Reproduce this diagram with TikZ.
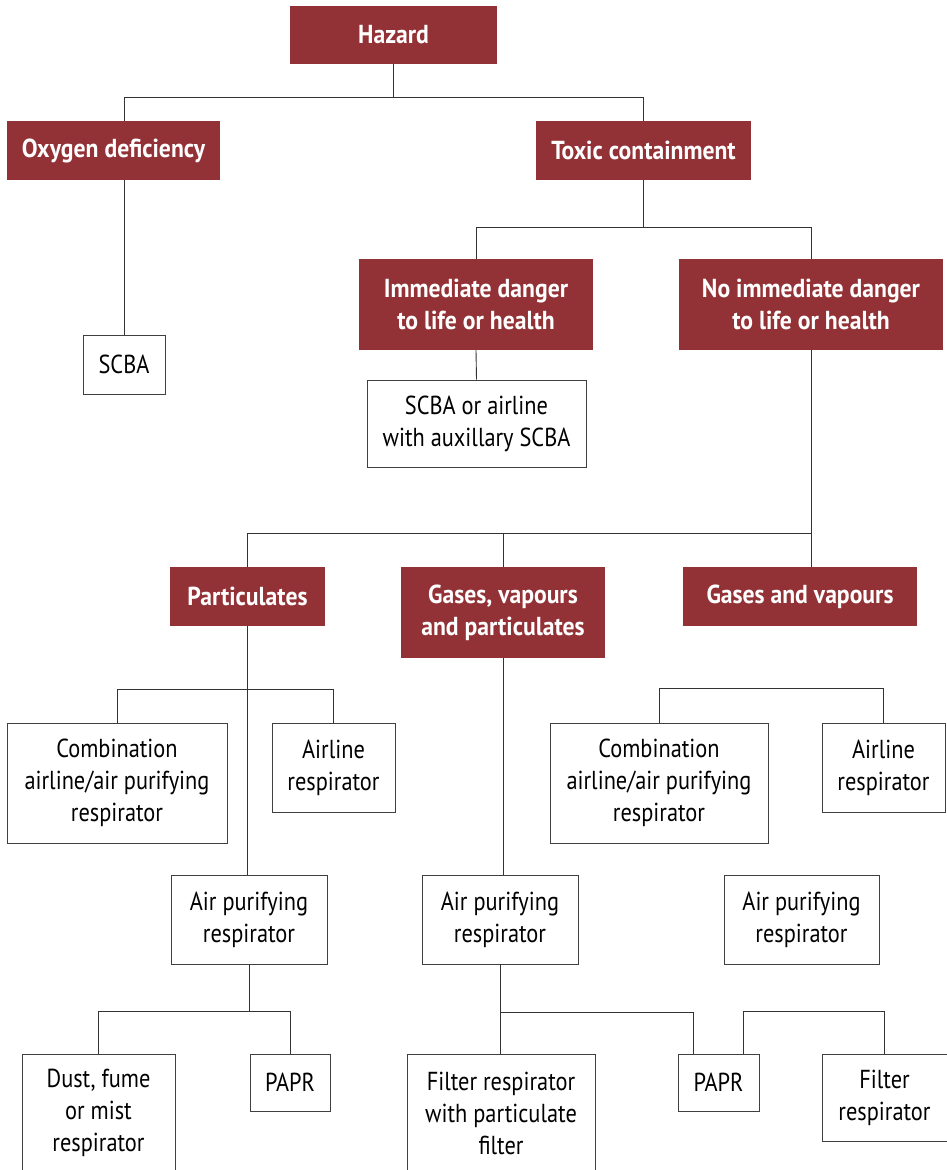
\documentclass[tikz,border=0pt]{standalone}
\usepackage{fontspec}
\setmainfont{PT Sans}[FakeStretch=0.86, BoldFeatures={FakeStretch=0.91}]
\usetikzlibrary{positioning,calc}
\definecolor{hazardred}{RGB}{147,50,54}

\begin{document}
\begin{tikzpicture}[x=1pt, y=-1pt,
    head/.style={rectangle, fill=hazardred, text=white, font=\bfseries\fontsize{26}{32}\selectfont, align=center, inner sep=0pt},
    choice/.style={rectangle, draw=black!75, line width=0.9pt, fill=white, font=\fontsize{26}{32}\selectfont, align=center, inner sep=0pt},
    dims/.style 2 args={minimum width=#1pt, minimum height=#2pt},
    link/.style={draw=black!80, line width=0.9pt}
]
    \useasboundingbox (0,0) rectangle (947,1170);
    \clip (0,0) rectangle (947,1170);

    % Hazard
    \node[head, dims={207}{58}] (hazard) at (393.5,35) {Hazard};
    \node[head, dims={213}{59}] (oxy) at (113.5,150.5) {Oxygen deficiency};
    \node[head, dims={215}{59}] (toxic) at (643.5,150.5) {Toxic containment};
    \node[choice, dims={82}{59}] (scba) at (124,364.5) {SCBA};

    % Toxic containment
    \node[head, dims={234}{91}] (imm) at (476,304.5) {Immediate danger\\to life or health};
    \node[head, dims={264}{91}] (noimm) at (811,304.5) {No immediate danger\\to life or health};
    \node[choice, dims={219}{87}] (scbaair) at (476.5,423.5) {SCBA or airline\\with auxillary SCBA};

    % No immediate danger
    \node[head, dims={155}{59}] (part) at (247.5,596.5) {Particulates};
    \node[head, dims={204}{91}] (gvp) at (503,612.5) {Gases, vapours\\and particulates};
    \node[head, dims={234}{59}] (gv) at (800,596.5) {Gases and vapours};

    % Respirators
    \node[choice, dims={220}{120}] (combL) at (117,783) {Combination\\airline/air purifying\\respirator};
    \node[choice, dims={123}{89}] (airL) at (333.5,767.5) {Airline\\respirator};
    \node[choice, dims={218}{120}] (combR) at (659,783) {Combination\\airline/air purifying\\respirator};
    \node[choice, dims={123}{89}] (airR) at (883.5,767.5) {Airline\\respirator};
    \node[choice, dims={156}{89}] (apL) at (249,919.5) {Air purifying\\respirator};
    \node[choice, dims={156}{89}] (apM) at (500,919.5) {Air purifying\\respirator};
    \node[choice, dims={155}{89}] (apR) at (801.5,919.5) {Air purifying\\respirator};

    % Air purifying
    \node[choice, dims={153}{118}] (dust) at (98.5,1113) {Dust, fume\\or mist\\respirator};
    \node[choice, dims={80}{57}] (papL) at (290,1082.5) {PAPR};
    \node[choice, dims={188}{118}] (filtP) at (501,1113) {Filter respirator\\with particulate\\filter};
    \node[choice, dims={81}{57}] (papM) at (718.5,1082.5) {PAPR};
    \node[choice, dims={125}{87}] (filtR) at (884.5,1097.5) {Filter\\respirator};

    % Lignes
    \draw[link] (hazard.south) -- ++(0,33) -| (oxy.north -| scba.north);
    \draw[link] (hazard.south) -- ++(0,33) -| (toxic.north);
    \draw[link] (oxy.south -| scba.north) -- (scba.north);

    \draw[link] (toxic.south) -- ++(0,47) -| (imm.north);
    \draw[link] (toxic.south) -- ++(0,47) -| (noimm.north);
    \draw[link] (imm.south) -- (scbaair.north);

    \draw[link] (noimm.south) -- (noimm.south |- gv.north);
    \draw[link] (noimm.south) ++(0,183) -| (part.north);
    \draw[link] (noimm.south) ++(0,183) -| (gvp.north);

    \draw[link] (part.south) -- (part.south |- apL.north);
    \draw[link] (combL.north) -- ++(0,-33) -| (airL.north);
    \draw[link] (gvp.south) -- (gvp.south |- apM.north);
    \draw[link] (combR.north) -- ++(0,-34) -| (airR.north);

    \draw[link] (apL.south) -- ++(0,48);
    \draw[link] (dust.north) -- ++(0,-42) -| (papL.north);
    \draw[link] (apM.south) -- (apM.south |- filtP.north);
    \draw[link] (apM.south) ++(0,48) -| ($(papM.north)+(-25,0)$);
    \draw[link] ($(papM.north)+(25,0)$) -- ++(0,-42) -| (filtR.north);

\end{tikzpicture}
\end{document}
